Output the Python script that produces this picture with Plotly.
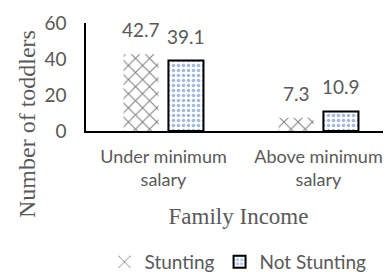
import plotly.graph_objects as go

categories = ["Under minimum<br>salary", "Above minimum<br>salary"]
stunting = [42.7, 7.3]
not_stunting = [39.1, 10.9]
series_names = ["Stunting", "Not Stunting"]
y_ticks = [0, 20, 40, 60]

# the page body has an 8px default margin, so the figure is sized to fill the window
OFF = 8
W, H = 391 - OFF, 272 - OFF
ML, MT, MB = 78, 15, 141
BARGAP = 0.42
BARGROUPGAP = 0.22
SANS = "Lato"
SERIF = "Liberation Serif"
GRAY = "#595959"

fig = go.Figure()
fig.add_trace(go.Bar(
    name=series_names[0], x=[0, 1], y=stunting,
    marker=dict(color="white", line=dict(width=0),
                pattern=dict(shape="x", fgcolor="black", bgcolor="white",
                             size=10, solidity=0.2)),
))
fig.add_trace(go.Bar(
    name=series_names[1], x=[0, 1], y=not_stunting,
    marker=dict(color="white", line=dict(width=2, color="black"),
                pattern=dict(shape=".", fgcolor="#4472C4", bgcolor="white",
                             size=5, solidity=0.4)),
))

slot = (1 - BARGAP) / 2
annotations = []
for j, vals in enumerate([stunting, not_stunting]):
    for i, v in enumerate(vals):
        annotations.append(dict(
            x=i + (j - 0.5) * slot, y=v, xref="x", yref="y",
            text=f"{v}", showarrow=False, yanchor="bottom", yshift=11,
            font=dict(family=SANS, size=19, color=GRAY)))
annotations.append(dict(
    text="Number of toddlers", textangle=-90, showarrow=False,
    xref="paper", yref="paper",
    x=(19 - ML) / (W - ML), y=(H - MB - 116) / (H - MB - MT),
    xanchor="center", yanchor="middle",
    font=dict(family=SERIF, size=24, color=GRAY)))

fig.update_layout(
    width=W, height=H,
    margin=dict(l=ML, r=0, t=MT, b=MB),
    paper_bgcolor="white", plot_bgcolor="white",
    barmode="group", bargap=BARGAP, bargroupgap=BARGROUPGAP,
    showlegend=True,
    legend=dict(orientation="h", xref="container", yref="container",
                x=(238 - OFF) / W, xanchor="center", y=10 / H, yanchor="middle",
                font=dict(family=SANS, size=19, color=GRAY),
                itemwidth=30),
    annotations=annotations,
    xaxis=dict(range=[-0.5, 1.468], tickmode="array", tickvals=[0, 1],
               ticktext=categories, showline=True, linecolor="black",
               linewidth=2, showgrid=False, zeroline=False, ticks="",
               ticklabelstandoff=8,
               tickfont=dict(family=SANS, size=18, color=GRAY),
               title=dict(text="Family Income", standoff=19,
                          font=dict(family=SERIF, size=23, color=GRAY))),
    yaxis=dict(range=[0, 60], tickvals=y_ticks, showline=True,
               linecolor="black", linewidth=1.5, showgrid=False,
               zeroline=False, ticks="", ticklabelstandoff=14,
               tickfont=dict(family=SANS, size=19, color=GRAY)),
)

fig.write_html("out.html")
